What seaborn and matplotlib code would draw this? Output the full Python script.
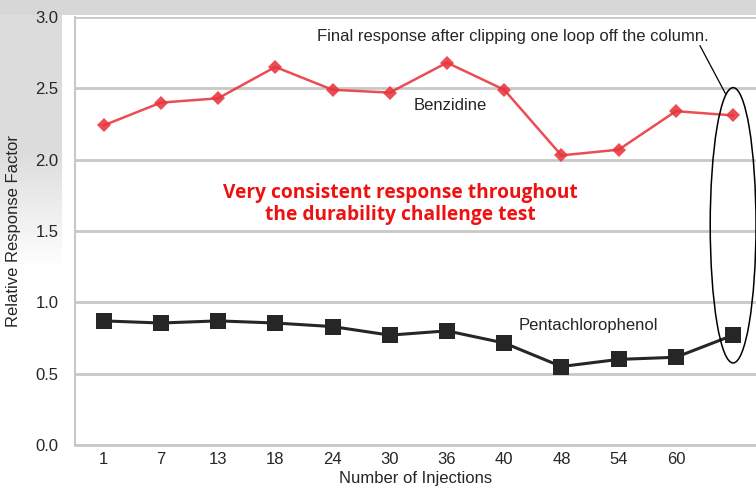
import numpy as np
import pandas as pd
import matplotlib
matplotlib.use("Agg")
import matplotlib.pyplot as plt
from matplotlib.patches import Ellipse
import seaborn as sns

injections = ["1", "7", "13", "18", "24", "30", "36", "40", "48", "54", "60", ""]
benzidine = [2.24, 2.40, 2.43, 2.65, 2.49, 2.47, 2.68, 2.49, 2.03, 2.07, 2.34, 2.31]
pentachlorophenol = [0.87, 0.855, 0.87, 0.855, 0.83, 0.77, 0.80, 0.715, 0.55, 0.60, 0.615, 0.77]
y_ticks = [0.0, 0.5, 1.0, 1.5, 2.0, 2.5, 3.0]

sns.set_theme(style="white")
plt.rcParams["font.family"] = ["Liberation Sans", "DejaVu Sans"]

pos = np.arange(len(injections))
df = pd.DataFrame({
    "pos": np.concatenate([pos, pos]),
    "value": benzidine + pentachlorophenol,
    "compound": ["Benzidine"] * len(pos) + ["Pentachlorophenol"] * len(pos),
})

W, H = 756, 487
fig = plt.figure(figsize=(W / 100, H / 100), dpi=100)
fig.patch.set_facecolor("white")

# background (scanned-look gray band at top and left)
bg = fig.add_axes([0, 0, 1, 1], zorder=-10)
yy, xx = np.mgrid[0:H, 0:W]
left = np.where(xx < 62, 0.86 + 0.14 * np.clip((yy - 150) / 120.0, 0, 1), 1.0)
top = np.where(yy < 15, 0.84, 1.0)
img = np.minimum(left, top)
bg.imshow(img, cmap="gray", vmin=0, vmax=1, aspect="auto", extent=[0, W, H, 0])
bg.set_axis_off()

ax = fig.add_axes([75 / W, 1 - 445 / H, (W - 75) / W, (445 - 17) / H])
ax.set_facecolor("white")

sns.lineplot(data=df, x="pos", y="value", hue="compound", style="compound",
             palette={"Benzidine": "#e8343c", "Pentachlorophenol": "#1a1a1a"},
             markers={"Benzidine": "D", "Pentachlorophenol": "s"},
             dashes=False, markersize=8, linewidth=2, markeredgewidth=0,
             legend=False, ax=ax, zorder=5)
for line in ax.lines:
    if line.get_marker() == "s":
        line.set_markersize(11)
        line.set_color("#262626")
        line.set_linewidth(2.2)
    else:
        line.set_markersize(7)
        line.set_linewidth(1.8)
        line.set_alpha(0.88)

ax.set_xlim(-0.5, 11.4)
ax.set_ylim(0, 3.0)
ax.set_yticks(y_ticks)
ax.set_yticklabels([f"{t:.1f}" for t in y_ticks], fontsize=12)
ax.set_xticks(pos)
ax.set_xticklabels(injections, fontsize=12)
ax.set_xticks(pos[:-1] + 0.5, minor=True)
ax.tick_params(axis="x", which="major", length=0, pad=5)
ax.tick_params(axis="x", which="minor", length=8, width=1.5, color="#c8c8c8", direction="out")
ax.tick_params(axis="y", length=9, width=1.5, color="#c8c8c8", pad=3)
ax.yaxis.grid(True, color="#c8c8c8", linewidth=2)
ax.set_axisbelow(True)
for s in ["top", "right"]:
    ax.spines[s].set_visible(False)
ax.spines["left"].set_color("#c8c8c8")
ax.spines["left"].set_linewidth(1.5)
ax.spines["bottom"].set_color("#c8c8c8")
ax.spines["bottom"].set_linewidth(2)

ax.set_xlabel("Number of Injections", fontsize=12, labelpad=3)
ax.set_ylabel("Relative Response Factor", fontsize=12, labelpad=10)

ax.text(6.05, 2.38, "Benzidine", fontsize=12, ha="center", va="center", zorder=6)
ax.text(8.47, 0.835, "Pentachlorophenol", fontsize=12, ha="center", va="center", zorder=6)
ax.text(7.15, 2.865, "Final response after clipping one loop off the column.",
        fontsize=12, ha="center", va="center", zorder=6)
ax.text(5.18, 1.69, "Very consistent response throughout\nthe durability challenge test",
        fontsize=13.8, fontweight="bold", color="#ee1111", ha="center", va="center",
        family=["Open Sans", "DejaVu Sans"], linespacing=1.15, zorder=6)

ell = Ellipse((11.0, 1.54), width=0.8, height=1.93, fill=False, edgecolor="black",
              linewidth=1.1, zorder=7)
ax.add_patch(ell)
ax.plot([10.42, 10.87], [2.80, 2.46], color="black", linewidth=0.9, zorder=7)

fig.savefig("out.png", dpi=100)
